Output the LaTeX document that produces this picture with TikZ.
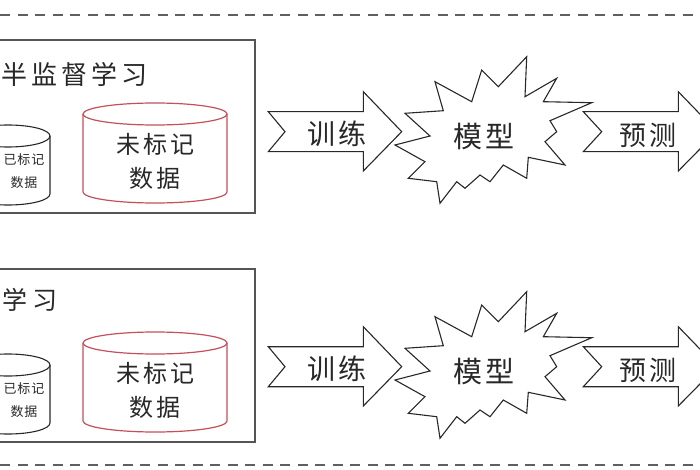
\documentclass[tikz,border=0pt]{standalone}
\usepackage{fontspec}
\newfontfamily\cjk{Noto Sans CJK SC}
\definecolor{boxgray}{RGB}{85,85,85}
\definecolor{inkgray}{RGB}{40,40,40}
\definecolor{dashgray}{RGB}{95,95,95}
\definecolor{cylred}{RGB}{195,80,90}
\tikzset{
  sepline/.style={draw=dashgray, line width=1.3pt, dash pattern=on 10pt off 7.5pt},
  framebox/.style={draw=boxgray, line width=1.4pt},
  shapeline/.style={draw=inkgray, line width=1.1pt, line join=miter},
  redcyl/.style={draw=cylred, line width=1.2pt},
  graycyl/.style={draw=inkgray, line width=1.1pt},
  lbl/.style={text=inkgray, inner sep=0pt, align=center, font=\cjk},
}
\newcommand\mycyl[6]{% cx, top cy, bottom cy, rx, ry, style
  \draw[#6] (#1,#2) ellipse [x radius=#4pt, y radius=#5pt];
  \draw[#6] (#1-#4,#2) -- (#1-#4,#3) arc[start angle=180, end angle=360, x radius=#4pt, y radius=#5pt] -- (#1+#4,#2);
}
\newcommand\rightpart[1]{% y offset
  \begin{scope}[shift={(0,#1)}]
    \draw[shapeline] (268.3,111.7) -- (285,131.7) -- (268.3,151.7) -- (363.3,151.7) -- (363.3,171) -- (401.7,131.7) -- (363.3,91.7) -- (363.3,111.7) -- cycle;
    \draw[shapeline] (526.7,56.7) -- (525,96.7) -- (556.7,78.3) -- (543.3,101.7) -- (591.7,102.7) -- (550,120.7) -- (556.7,131.7) -- (545,141.7) -- (565,165) -- (528.3,157.3) -- (526.7,178.3) -- (503.3,165) -- (490,181.7) -- (480,175) -- (465,188.3) -- (456.7,181.7) -- (440,203.3) -- (436.7,181.7) -- (408.3,178.3) -- (425,161.7) -- (395,145) -- (430,136) -- (405,113.3) -- (443.3,110.7) -- (435,81.7) -- (471.7,101.7) -- (481.7,70) -- (498.3,86.7) -- cycle;
    \draw[shapeline] (583.3,111.7) -- (601.7,131.7) -- (583.3,151.7) -- (678.3,151.7) -- (678.3,171) -- (717,131.7) -- (678.3,91.7) -- (678.3,111.7) -- cycle;
  \end{scope}
}
\newcommand\leftpart[1]{% y offset
  \begin{scope}[shift={(0,#1)}]
    \draw[framebox] (-5,40) rectangle (255,213);
    \mycyl{155}{114}{192}{72}{11}{redcyl}
    \mycyl{8}{136}{194}{42}{11}{graycyl}
  \end{scope}
}
\begin{document}
\begin{tikzpicture}[x=1pt, y=-1pt]
  \useasboundingbox (0,0) rectangle (700,470);
  \clip (0,0) rectangle (700,470);
  \draw[sepline] (0,15) -- (700,15);
  \draw[sepline] (0,465) -- (700,465);

  \leftpart{0}
  \leftpart{229}
  \rightpart{0}
  \rightpart{235}

  % top row texts
  \node[lbl, anchor=west, font=\cjk\fontsize{26}{30}\selectfont] (t1) at (1,74) {半\kern4pt 监\kern4pt 督\kern4pt 学\kern4pt 习};
  \node[lbl, font=\cjk\fontsize{24}{34}\selectfont] (u1) at (155,161) {未\kern3pt 标\kern3pt 记\\数\kern3pt 据};
  \node[lbl, font=\cjk\fontsize{13}{23}\selectfont] (l1) at (24,171) {已\kern1pt 标\kern1pt 记\\数\kern1pt 据};
  \node[lbl, font=\cjk\fontsize{28}{30}\selectfont] (tr1) at (337,134) {训\kern3pt 练};
  \node[lbl, font=\cjk\fontsize{29}{30}\selectfont] (m1) at (484,136) {模\kern4pt 型};
  \node[lbl, font=\cjk\fontsize{27}{30}\selectfont] (p1) at (647.5,135) {预\kern3pt 测};

  % bottom row texts
  \node[lbl, anchor=west, font=\cjk\fontsize{25}{30}\selectfont] (t2) at (2,300) {学\kern5pt 习};
  \node[lbl, font=\cjk\fontsize{24}{34}\selectfont] (u2) at (155,390) {未\kern3pt 标\kern3pt 记\\数\kern3pt 据};
  \node[lbl, font=\cjk\fontsize{13}{23}\selectfont] (l2) at (24,400) {已\kern1pt 标\kern1pt 记\\数\kern1pt 据};
  \node[lbl, font=\cjk\fontsize{28}{30}\selectfont] (tr2) at (337,369) {训\kern3pt 练};
  \node[lbl, font=\cjk\fontsize{29}{30}\selectfont] (m2) at (484,371) {模\kern4pt 型};
  \node[lbl, font=\cjk\fontsize{27}{30}\selectfont] (p2) at (647.5,370) {预\kern3pt 测};
\end{tikzpicture}
\end{document}
